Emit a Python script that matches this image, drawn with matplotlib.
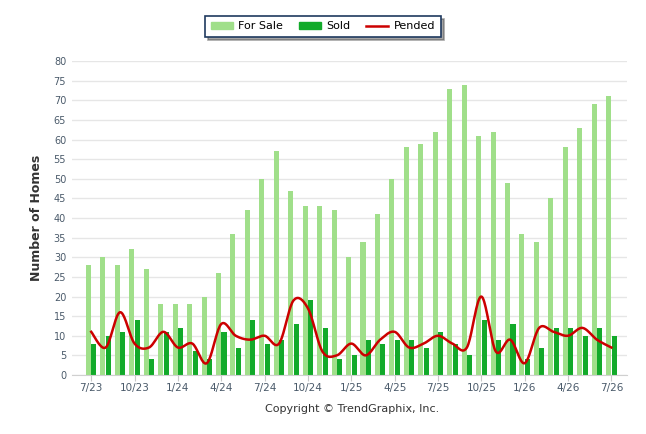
import matplotlib.pyplot as plt
from matplotlib.patches import Patch
from matplotlib.lines import Line2D
import numpy as np

months = ['7/23', '8/23', '9/23', '10/23', '11/23', '12/23',
          '1/24', '2/24', '3/24', '4/24', '5/24', '6/24',
          '7/24', '8/24', '9/24', '10/24', '11/24', '12/24',
          '1/25', '2/25', '3/25', '4/25', '5/25', '6/25',
          '7/25', '8/25', '9/25', '10/25', '11/25', '12/25',
          '1/26', '2/26', '3/26', '4/26', '5/26', '6/26', '7/26']
for_sale = [28, 30, 28, 32, 27, 18, 18, 18, 20, 26, 36, 42, 50, 57, 47, 43, 43, 42, 30,
            34, 41, 50, 58, 59, 62, 73, 74, 61, 62, 49, 36, 34, 45, 58, 63, 69, 71]
sold = [8, 10, 11, 14, 4, 11, 12, 6, 4, 11, 7, 14, 8, 9, 13, 19, 12, 4, 5,
        9, 8, 9, 9, 7, 11, 8, 5, 14, 9, 13, 4, 7, 12, 12, 10, 12, 10]
pended = [11, 7, 16, 8, 7, 11, 7, 8, 3, 13, 10, 9, 10, 8, 19, 17, 6, 5, 8,
          5, 9, 11, 7, 8, 10, 8, 7, 20, 6, 9, 3, 12, 11, 10, 12, 9, 7]

c_sale = '#a0df8a'
c_sold = '#12aa2a'
c_pend = '#cc0000'


def smooth(xs, ys, n=20):
    # cardinal spline, tension 0.5 (same as catmull-rom)
    xs = np.asarray(xs, float)
    ys = np.asarray(ys, float)
    px = np.concatenate([[xs[0]], xs, [xs[-1]]])
    py = np.concatenate([[ys[0]], ys, [ys[-1]]])
    ox, oy = [], []
    t = np.linspace(0, 1, n, endpoint=False)
    for i in range(1, len(px) - 2):
        x0, x1 = px[i], px[i + 1]
        y0, y1 = py[i], py[i + 1]
        c1x = x0 + (px[i + 1] - px[i - 1]) / 6
        c1y = y0 + (py[i + 1] - py[i - 1]) / 6
        c2x = x1 - (px[i + 2] - px[i]) / 6
        c2y = y1 - (py[i + 2] - py[i]) / 6
        a, b, c, d = (1 - t) ** 3, 3 * (1 - t) ** 2 * t, 3 * (1 - t) * t ** 2, t ** 3
        ox.extend(a * x0 + b * c1x + c * c2x + d * x1)
        oy.extend(a * y0 + b * c1y + c * c2y + d * y1)
    ox.append(xs[-1])
    oy.append(ys[-1])
    return np.array(ox), np.array(oy)


x = np.arange(len(months))

fig = plt.figure(figsize=(6.46, 4.34), dpi=100)
ax = fig.add_axes([0.111, 0.136, 0.86, 0.723])

ax.bar(x - 0.19, for_sale, width=0.35, color=c_sale, zorder=2)
ax.bar(x + 0.19, sold, width=0.35, color=c_sold, zorder=2)
sx, sy = smooth(x, pended)
ax.plot(sx, sy, color=c_pend, lw=1.8, zorder=3)

ax.set_xlim(-1.35, len(months) - 1 + 1.1)
ax.set_ylim(0, 80)
ax.set_yticks(range(0, 81, 5))
ax.set_xticks(x[::3])
ax.set_xticklabels(months[::3])
ax.tick_params(axis='y', length=0, labelsize=7, labelcolor='#4a5a6a', pad=4)
ax.tick_params(axis='x', length=4, color='#c8c8c8', labelsize=7.5, labelcolor='#4a5a6a', pad=2)
ax.grid(axis='y', color='#e6e6e6', lw=1, zorder=0)
for s in ['top', 'right', 'left']:
    ax.spines[s].set_visible(False)
ax.spines['bottom'].set_color('#d0d0d0')

ax.set_ylabel('Number of Homes', fontsize=9, fontweight='bold', color='#333333', labelpad=8)

handles = [Patch(color=c_sale, label='For Sale'),
           Patch(color=c_sold, label='Sold'),
           Line2D([], [], color=c_pend, lw=1.8, label='Pended')]
leg = fig.legend(handles=handles, loc='center', bbox_to_anchor=(0.5, 0.939), ncol=3,
                 fontsize=8, frameon=True, fancybox=False, shadow=True,
                 edgecolor='#1f3a5f', handlelength=2.0, handleheight=0.7,
                 columnspacing=1.4, borderpad=0.5, handletextpad=0.5)
leg.get_frame().set_linewidth(1.2)

fig.text(0.545, 0.057, 'Copyright \u00a9 TrendGraphix, Inc.', ha='center', va='center',
         fontsize=8, color='#333333')

fig.savefig('out.png', dpi=100)
